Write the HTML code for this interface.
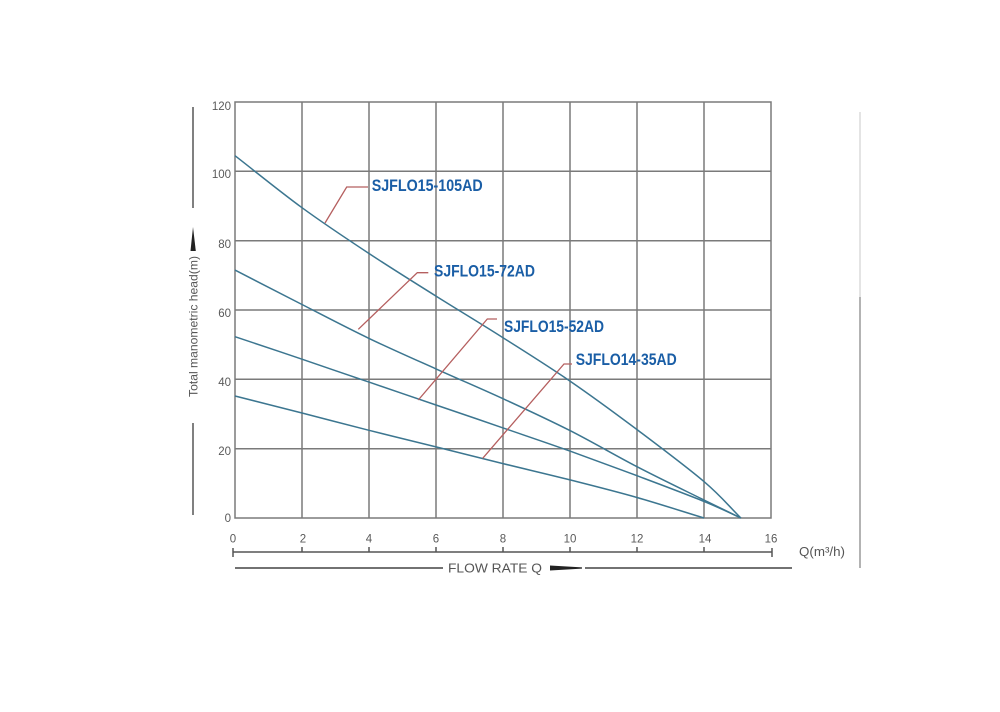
<!DOCTYPE html>
<html>
<head>
<meta charset="utf-8">
<style>
  html, body { margin:0; padding:0; background:#ffffff; }
  svg { display:block; }
  .tick { font-family:"Liberation Sans", sans-serif; font-size:11.5px; fill:#5a5a5a; }
  .lbl { font-family:"Liberation Sans", sans-serif; font-weight:bold; font-size:17px; fill:#1a5ea6; }
</style>
</head>
<body>
<svg width="1000" height="712" viewBox="0 0 1000 712" xmlns="http://www.w3.org/2000/svg">
  <rect x="0" y="0" width="1000" height="712" fill="#ffffff"/>

  <!-- grid -->
  <g stroke="#7a7a7a" stroke-width="1.5" fill="none">
    <line x1="302" y1="102" x2="302" y2="518"/>
    <line x1="369" y1="102" x2="369" y2="518"/>
    <line x1="436" y1="102" x2="436" y2="518"/>
    <line x1="503" y1="102" x2="503" y2="518"/>
    <line x1="570" y1="102" x2="570" y2="518"/>
    <line x1="637" y1="102" x2="637" y2="518"/>
    <line x1="704" y1="102" x2="704" y2="518"/>
    <line x1="235" y1="448.7" x2="771" y2="448.7"/>
    <line x1="235" y1="379.3" x2="771" y2="379.3"/>
    <line x1="235" y1="310" x2="771" y2="310"/>
    <line x1="235" y1="240.7" x2="771" y2="240.7"/>
    <line x1="235" y1="171.3" x2="771" y2="171.3"/>
    <rect x="235" y="102" width="536" height="416"/>
  </g>

  <!-- y tick labels -->
  <g class="tick" text-anchor="end">
    <text x="231" y="110">120</text>
    <text x="231" y="178">100</text>
    <text x="231" y="248">80</text>
    <text x="231" y="317">60</text>
    <text x="231" y="386">40</text>
    <text x="231" y="455">20</text>
    <text x="231" y="522">0</text>
  </g>

  <!-- x tick labels -->
  <g class="tick" text-anchor="middle">
    <text x="233" y="542.5">0</text>
    <text x="303" y="542.5">2</text>
    <text x="369" y="542.5">4</text>
    <text x="436" y="542.5">6</text>
    <text x="503" y="542.5">8</text>
    <text x="570" y="542.5">10</text>
    <text x="637" y="542.5">12</text>
    <text x="705" y="542.5">14</text>
    <text x="771" y="542.5">16</text>
  </g>

  <!-- x scale line -->
  <g stroke="#555" stroke-width="1.5" fill="none">
    <line x1="233" y1="552" x2="772" y2="552"/>
    <line x1="233" y1="548" x2="233" y2="557"/>
    <line x1="772" y1="548" x2="772" y2="557"/>
    <line x1="302" y1="547" x2="302" y2="552"/>
    <line x1="369" y1="547" x2="369" y2="552"/>
    <line x1="436" y1="547" x2="436" y2="552"/>
    <line x1="503" y1="547" x2="503" y2="552"/>
    <line x1="570" y1="547" x2="570" y2="552"/>
    <line x1="637" y1="547" x2="637" y2="552"/>
    <line x1="704" y1="547" x2="704" y2="552"/>
  </g>
  <text x="799" y="556" font-family="Liberation Sans, sans-serif" font-size="13" fill="#555" textLength="46" lengthAdjust="spacingAndGlyphs">Q(m³/h)</text>

  <!-- flow rate line -->
  <g stroke="#444" stroke-width="1.5">
    <line x1="235" y1="568" x2="443" y2="568"/>
    <line x1="585" y1="568" x2="792" y2="568"/>
  </g>
  <text x="448" y="572.5" font-family="Liberation Sans, sans-serif" font-size="12.5" fill="#555" textLength="94" lengthAdjust="spacingAndGlyphs">FLOW RATE Q</text>
  <polygon points="550,565.5 550,570.5 582,568.6 582,567.4" fill="#222"/>

  <!-- y axis decoration -->
  <g stroke="#555" stroke-width="1.5">
    <line x1="193" y1="107" x2="193" y2="208"/>
    <line x1="193" y1="423" x2="193" y2="515"/>
  </g>
  <polygon points="193,227 190.5,251 195.8,251" fill="#222"/>
  <text transform="translate(197.5,397) rotate(-90)" font-family="Liberation Sans, sans-serif" font-size="12" fill="#555" textLength="141" lengthAdjust="spacingAndGlyphs">Total manometric head(m)</text>

  <!-- right faint line -->
  <line x1="860" y1="112" x2="860" y2="297" stroke="#c8c8c8" stroke-width="1"/>
  <line x1="860" y1="297" x2="860" y2="568" stroke="#8a8a8a" stroke-width="1.3"/>

  <!-- curves -->
  <g stroke="#3c7690" stroke-width="1.5" fill="none" stroke-linejoin="round">
    <path d="M235,155.7 C257.3,173 279.7,191.4 302,207.7 C324.3,224 346.7,238.8 369,253.5 C391.3,268.2 413.7,282.1 436,296.1 C458.3,310.1 480.7,323.5 503,337.7 C525.3,351.9 547.7,365.8 570,381.1 C592.3,396.4 614.7,412.9 637,429.6 C659.3,446.4 686.7,466.9 704,481.6 C721.3,496.3 728.6,505.9 740.9,518"/>
    <path d="M235,270.1 C257.3,281.6 279.7,293.1 302,304.5 C324.3,315.9 346.7,327.7 369,338.4 C391.3,349.1 413.7,358.9 436,368.9 C458.3,378.95 480.7,388.4 503,398.7 C525.3,409 547.7,419.3 570,430.6 C592.3,441.9 614.7,455.1 637,466.7 C659.3,478.3 686.7,491.45 704,500 C721.3,508.55 728.6,512 740.9,518"/>
    <path d="M235,336.7 C257.3,344.2 279.7,351.6 302,359.2 C324.3,366.8 346.7,374.5 369,382.1 C391.3,389.7 413.7,397.4 436,405 C458.3,412.6 480.7,420.2 503,427.9 C525.3,435.6 547.7,443.1 570,451.1 C592.3,459.1 614.7,467.3 637,475.7 C659.3,484.1 686.7,494.35 704,501.4 C721.3,508.45 728.6,512.5 740.9,518"/>
    <path d="M235,396 C257.3,401.7 279.7,407.3 302,413 C324.3,418.7 346.7,424.65 369,430.3 C391.3,435.95 413.7,441.35 436,446.9 C458.3,452.45 480.7,458.1 503,463.6 C525.3,469.1 547.7,474.25 570,479.9 C592.3,485.55 614.7,491.15 637,497.5 C659.3,503.85 681.7,511.2 704,518"/>
  </g>

  <!-- leader lines -->
  <g stroke="#b55f5f" stroke-width="1.3" fill="none">
    <polyline points="325,223 346.7,187 368,187"/>
    <polyline points="358.3,329.3 417.3,272.7 428.3,272.7"/>
    <polyline points="418.3,400 487.3,319 497,319"/>
    <polyline points="482.7,458.3 564,364 572,364"/>
  </g>

  <!-- labels -->
  <text class="lbl" x="371.7" y="191" textLength="111" lengthAdjust="spacingAndGlyphs">SJFLO15-105AD</text>
  <text class="lbl" x="434" y="276.5" textLength="101" lengthAdjust="spacingAndGlyphs">SJFLO15-72AD</text>
  <text class="lbl" x="504" y="332" textLength="100" lengthAdjust="spacingAndGlyphs">SJFLO15-52AD</text>
  <text class="lbl" x="575.7" y="365" textLength="101" lengthAdjust="spacingAndGlyphs">SJFLO14-35AD</text>
</svg>
</body>
</html>
